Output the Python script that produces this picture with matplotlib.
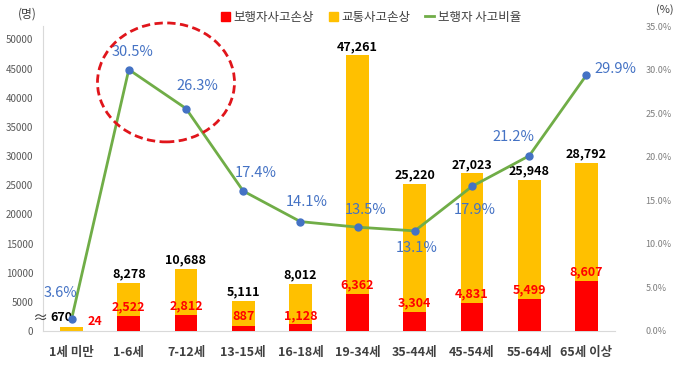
import matplotlib
matplotlib.use('Agg')
import matplotlib.pyplot as plt
from matplotlib.patches import Ellipse
from matplotlib.lines import Line2D
from matplotlib.patches import Patch

plt.rcParams['font.family'] = ['Noto Sans CJK KR', 'DejaVu Sans']

# data
ages = ['1세 미만', '1-6세', '7-12세', '13-15세', '16-18세', '19-34세', '35-44세', '45-54세', '55-64세', '65세 이상']
total_injury = [670, 8278, 10688, 5111, 8012, 47261, 25220, 27023, 25948, 28792]
ped_injury = [24, 2522, 2812, 887, 1128, 6362, 3304, 4831, 5499, 8607]
ped_ratio = [3.6, 30.5, 26.3, 17.4, 14.1, 13.5, 13.1, 17.9, 21.2, 29.9]

# label offsets for the ratio labels (pixels)
ratio_offsets = [(-11, 26), (4, 18), (11, 23), (13, 18), (6, 20), (8, 17), (2, -17), (3, -24), (-16, 19), (29, 6)]

RED = '#FF0000'
YELLOW = '#FFC000'
GREEN = '#70AD47'
BLUE = '#4472C4'
GRAY = '#595959'

fig = plt.figure(figsize=(6.8, 3.7), dpi=100)
ax = fig.add_axes([43 / 680, 39 / 370, 572 / 680, 305 / 370])
x = list(range(len(ages)))

ax.bar(x, total_injury, width=0.4, color=YELLOW, zorder=2)
ax.bar(x, ped_injury, width=0.4, color=RED, zorder=3)
ax.set_xlim(-0.5, len(ages) - 0.5)
ax.set_ylim(0, 52300)
ax.set_yticks(range(0, 50001, 5000))
ax.tick_params(axis='y', length=0, labelsize=7, labelcolor=GRAY, pad=7)
ax.set_xticks(x)
ax.set_xticklabels(ages, fontsize=9, fontweight='bold', color='#404040')
ax.tick_params(axis='x', length=0, pad=11)
for s in ['top', 'right']:
    ax.spines[s].set_visible(False)
for s in ['left', 'bottom']:
    ax.spines[s].set_color('#D9D9D9')

# value labels on bars
for i in x:
    if i == 0:
        ax.annotate(f'{total_injury[i]:,}', (i, total_injury[i]), xytext=(1, 10), textcoords='offset pixels',
                    ha='right', va='center', fontsize=9, fontweight='bold', color='black', zorder=5)
        ax.annotate(f'{ped_injury[i]:,}', (i, ped_injury[i]), xytext=(16, 9), textcoords='offset pixels',
                    ha='left', va='center', fontsize=9, fontweight='bold', color=RED, zorder=5)
    else:
        ax.annotate(f'{total_injury[i]:,}', (i, total_injury[i]), xytext=(0, 9), textcoords='offset pixels',
                    ha='center', va='center', fontsize=9, fontweight='bold', color='black', zorder=5)
        ax.annotate(f'{ped_injury[i]:,}', (i, ped_injury[i]), xytext=(0, 9), textcoords='offset pixels',
                    ha='center', va='center', fontsize=9, fontweight='bold', color=RED, zorder=5)

ax.annotate('≈', (-0.5, 2230), xytext=(-3, 0), textcoords='offset pixels', ha='center', va='center',
            fontsize=11, color='#404040', annotation_clip=False)

# visible percent axis
ax2 = ax.twinx()
ax2.set_ylim(0, 35)
ax2.set_yticks(range(0, 36, 5))
ax2.set_yticklabels([f'{v:.1f}%' for v in range(0, 36, 5)])
ax2.tick_params(axis='y', length=0, labelsize=6.5, labelcolor='#7F7F7F', pad=22)
for s in ax2.spines.values():
    s.set_visible(False)

# line axis
ax3 = ax.twinx()
ax3.set_ylim(2.3, 35.2)
ax3.axis('off')
ax3.plot(x, ped_ratio, color=GREEN, lw=2, marker='o', markersize=5,
         markerfacecolor=BLUE, markeredgecolor=BLUE, zorder=4)
for i, v in enumerate(ped_ratio):
    ax3.annotate(f'{v}%', (i, v), xytext=ratio_offsets[i], textcoords='offset pixels',
                 ha='center', va='center', fontsize=10.5, color=BLUE)

ax3.add_patch(Ellipse((0.215, 0.815), 0.2395, 0.39, transform=ax3.transAxes, fill=False, clip_on=False,
                      edgecolor='#E0151B', lw=2, linestyle=(0, (3, 1.6)), zorder=6))

# unit labels
fig.text(27 / 680, 1 - 14 / 370, '(명)', ha='center', va='center', fontsize=8.5, color='#404040')
fig.text(665 / 680, 1 - 10 / 370, '(%)', ha='center', va='center', fontsize=8, color='#404040')

handles = [Patch(color=RED), Patch(color=YELLOW), Line2D([0], [0], color=GREEN, lw=2)]
labels = ['보행자사고손상', '교통사고손상', '보행자 사고비율']
leg = fig.legend(handles, labels, loc='center', bbox_to_anchor=(371 / 680, 1 - 17 / 370), ncol=3,
                 frameon=False, fontsize=9, handlelength=0.7, handleheight=0.7, handletextpad=0.3,
                 columnspacing=1.2)
for t in leg.get_texts():
    t.set_color('#404040')

plt.savefig('out.png', dpi=100)
plt.close()
